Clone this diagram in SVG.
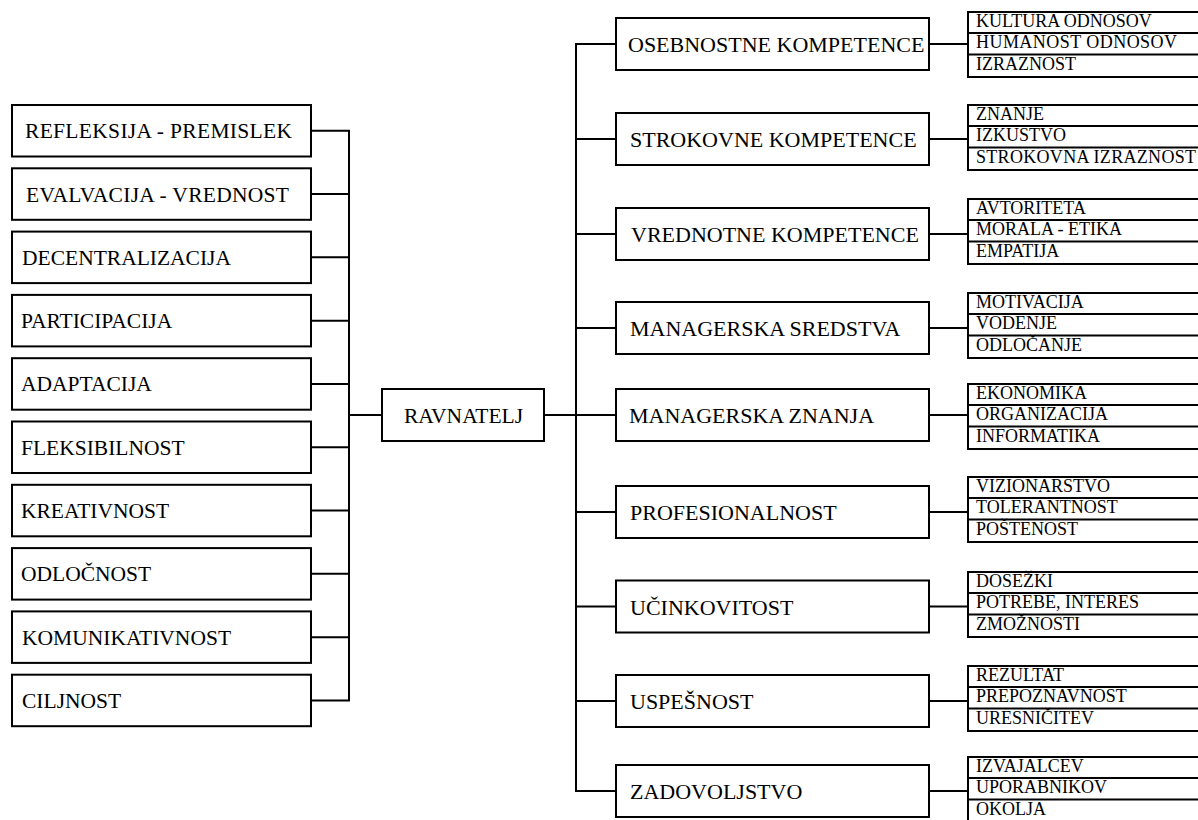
<svg xmlns="http://www.w3.org/2000/svg" width="1198" height="820" viewBox="0 0 1198 820">
<style>
.box{fill:#fff;stroke:#000;stroke-width:2}
.sep{stroke:#000;stroke-width:2}
text{font-family:'Liberation Serif','DejaVu Serif',serif;fill:#000}
.lt{font-size:21.5px}
.mt{font-size:22px}
.st{font-size:18px}
#connectors path{fill:none;stroke:#000;stroke-width:2;stroke-linejoin:miter;stroke-linecap:square}
</style>
<rect width="1198" height="820" fill="#fff"/>
<g id="connectors">
<path d="M311 130.75H349V700.45H311"/>
<path d="M311 194.05H349M311 257.35H349M311 320.65H349M311 383.95H349M311 447.25H349M311 510.55H349M311 573.85H349M311 637.15H349"/>
<path d="M349 415H382"/>
<path d="M544 415H576"/>
<path d="M616 44H576V791H616"/>
<path d="M576 139H616M576 234H616M576 328H616M576 415H616M576 512H616M576 606.5H616M576 701H616"/>
<path d="M929 44H968M929 139H968M929 234H968M929 328H968M929 415H968M929 512H968M929 606.5H968M929 701H968M929 791H968"/>
</g>
<g id="left-refleksija"><rect class="box" x="12" y="105" width="299" height="51.5"/><text class="lt" x="25" y="138.25" textLength="267" lengthAdjust="spacing">REFLEKSIJA - PREMISLEK</text></g>
<g id="left-evalvacija"><rect class="box" x="12" y="168.3" width="299" height="51.5"/><text class="lt" x="26" y="201.55" textLength="263" lengthAdjust="spacing">EVALVACIJA - VREDNOST</text></g>
<g id="left-decentralizacija"><rect class="box" x="12" y="231.6" width="299" height="51.5"/><text class="lt" x="22" y="264.85">DECENTRALIZACIJA</text></g>
<g id="left-participacija"><rect class="box" x="12" y="294.9" width="299" height="51.5"/><text class="lt" x="21" y="328.15">PARTICIPACIJA</text></g>
<g id="left-adaptacija"><rect class="box" x="12" y="358.2" width="299" height="51.5"/><text class="lt" x="21" y="391.45">ADAPTACIJA</text></g>
<g id="left-fleksibilnost"><rect class="box" x="12" y="421.5" width="299" height="51.5"/><text class="lt" x="21" y="454.75">FLEKSIBILNOST</text></g>
<g id="left-kreativnost"><rect class="box" x="12" y="484.8" width="299" height="51.5"/><text class="lt" x="21" y="518.05">KREATIVNOST</text></g>
<g id="left-odlocnost"><rect class="box" x="12" y="548.1" width="299" height="51.5"/><text class="lt" x="21" y="581.35">ODLOČNOST</text></g>
<g id="left-komunikativnost"><rect class="box" x="12" y="611.4" width="299" height="51.5"/><text class="lt" x="22" y="644.65">KOMUNIKATIVNOST</text></g>
<g id="left-ciljnost"><rect class="box" x="12" y="674.7" width="299" height="51.5"/><text class="lt" x="22" y="707.95">CILJNOST</text></g>
<g id="ravnatelj"><rect class="box" x="382" y="389" width="162" height="52"/><text class="lt" x="404" y="422.5">RAVNATELJ</text></g>
<g id="m-osebnostne"><rect class="box" x="616" y="18" width="313" height="52"/><text class="mt" x="628" y="52">OSEBNOSTNE KOMPETENCE</text></g>
<g id="m-strokovne"><rect class="box" x="616" y="113" width="313" height="52"/><text class="mt" x="630" y="147">STROKOVNE KOMPETENCE</text></g>
<g id="m-vrednotne"><rect class="box" x="616" y="208" width="313" height="52"/><text class="mt" x="631" y="242">VREDNOTNE KOMPETENCE</text></g>
<g id="m-sredstva"><rect class="box" x="616" y="302" width="313" height="52"/><text class="mt" x="630" y="336">MANAGERSKA SREDSTVA</text></g>
<g id="m-znanja"><rect class="box" x="616" y="389" width="313" height="52"/><text class="mt" x="629" y="423">MANAGERSKA ZNANJA</text></g>
<g id="m-profesionalnost"><rect class="box" x="616" y="486" width="313" height="52"/><text class="mt" x="630" y="520">PROFESIONALNOST</text></g>
<g id="m-ucinkovitost"><rect class="box" x="616" y="580.5" width="313" height="52"/><text class="mt" x="630" y="614.5">UČINKOVITOST</text></g>
<g id="m-uspesnost"><rect class="box" x="616" y="675" width="313" height="52"/><text class="mt" x="630" y="709">USPEŠNOST</text></g>
<g id="m-zadovoljstvo"><rect class="box" x="616" y="765" width="313" height="52"/><text class="mt" x="630" y="799">ZADOVOLJSTVO</text></g>
<g id="s-osebnostne"><rect class="box" x="968" y="12" width="240" height="65"/><line class="sep" x1="968" y1="33" x2="1200" y2="33"/><line class="sep" x1="968" y1="54.5" x2="1200" y2="54.5"/><text class="st" x="976" y="27">KULTURA ODNOSOV</text><text class="st" x="976" y="48" textLength="201" lengthAdjust="spacing">HUMANOST ODNOSOV</text><text class="st" x="976" y="69.5">IZRAZNOST</text></g>
<g id="s-strokovne"><rect class="box" x="968" y="105" width="240" height="65"/><line class="sep" x1="968" y1="126" x2="1200" y2="126"/><line class="sep" x1="968" y1="147.5" x2="1200" y2="147.5"/><text class="st" x="976" y="120">ZNANJE</text><text class="st" x="976" y="141">IZKUSTVO</text><text class="st" x="976" y="162.5" textLength="220" lengthAdjust="spacing">STROKOVNA IZRAZNOST</text></g>
<g id="s-vrednotne"><rect class="box" x="968" y="199" width="240" height="65"/><line class="sep" x1="968" y1="220" x2="1200" y2="220"/><line class="sep" x1="968" y1="241.5" x2="1200" y2="241.5"/><text class="st" x="976" y="214">AVTORITETA</text><text class="st" x="976" y="235">MORALA - ETIKA</text><text class="st" x="976" y="256.5">EMPATIJA</text></g>
<g id="s-sredstva"><rect class="box" x="968" y="293" width="240" height="65"/><line class="sep" x1="968" y1="314" x2="1200" y2="314"/><line class="sep" x1="968" y1="335.5" x2="1200" y2="335.5"/><text class="st" x="976" y="308">MOTIVACIJA</text><text class="st" x="976" y="329">VODENJE</text><text class="st" x="976" y="350.5">ODLOČANJE</text></g>
<g id="s-znanja"><rect class="box" x="968" y="384" width="240" height="65"/><line class="sep" x1="968" y1="405" x2="1200" y2="405"/><line class="sep" x1="968" y1="426.5" x2="1200" y2="426.5"/><text class="st" x="976" y="399">EKONOMIKA</text><text class="st" x="976" y="420">ORGANIZACIJA</text><text class="st" x="976" y="441.5">INFORMATIKA</text></g>
<g id="s-profesionalnost"><rect class="box" x="968" y="477" width="240" height="65"/><line class="sep" x1="968" y1="498" x2="1200" y2="498"/><line class="sep" x1="968" y1="519.5" x2="1200" y2="519.5"/><text class="st" x="976" y="492">VIZIONARSTVO</text><text class="st" x="976" y="513">TOLERANTNOST</text><text class="st" x="976" y="534.5">POŠTENOST</text></g>
<g id="s-ucinkovitost"><rect class="box" x="968" y="572" width="240" height="65"/><line class="sep" x1="968" y1="593" x2="1200" y2="593"/><line class="sep" x1="968" y1="614.5" x2="1200" y2="614.5"/><text class="st" x="976" y="587">DOSEŽKI</text><text class="st" x="976" y="608">POTREBE, INTERES</text><text class="st" x="976" y="629.5">ZMOŽNOSTI</text></g>
<g id="s-uspesnost"><rect class="box" x="968" y="666" width="240" height="65"/><line class="sep" x1="968" y1="687" x2="1200" y2="687"/><line class="sep" x1="968" y1="708.5" x2="1200" y2="708.5"/><text class="st" x="976" y="681">REZULTAT</text><text class="st" x="976" y="702">PREPOZNAVNOST</text><text class="st" x="976" y="723.5">URESNIČITEV</text></g>
<g id="s-zadovoljstvo"><rect class="box" x="968" y="757" width="240" height="65"/><line class="sep" x1="968" y1="778" x2="1200" y2="778"/><line class="sep" x1="968" y1="799.5" x2="1200" y2="799.5"/><text class="st" x="976" y="772">IZVAJALCEV</text><text class="st" x="976" y="793">UPORABNIKOV</text><text class="st" x="976" y="814.5">OKOLJA</text></g>
</svg>
